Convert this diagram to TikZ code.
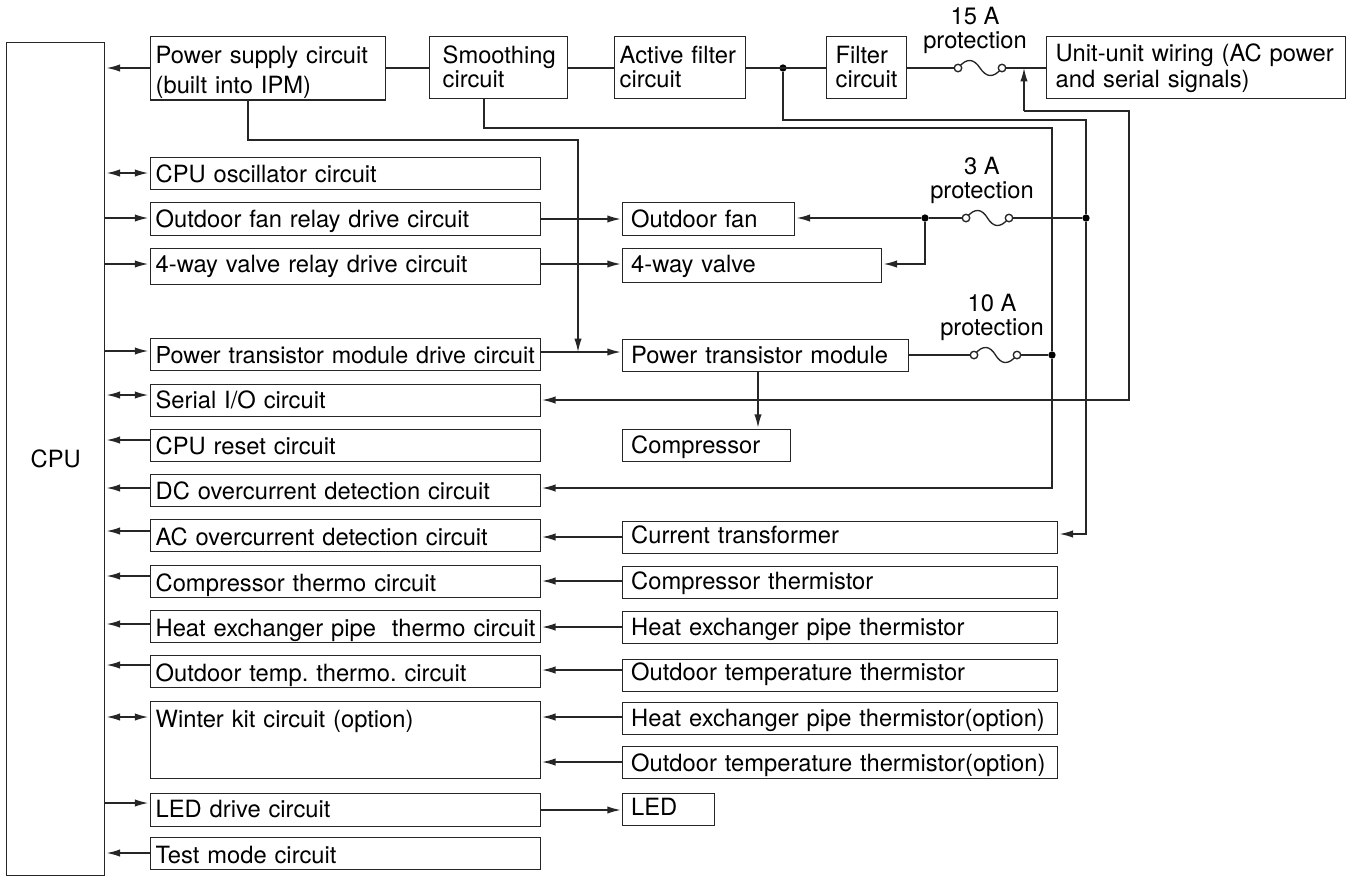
\documentclass[tikz,border=0pt]{standalone}
\usepackage{fontspec}
\setmainfont{TeX Gyre Heros}
\usetikzlibrary{arrows.meta,calc}
\tikzset{
  x=0.75pt,y=-0.75pt,
  txt/.style={font=\fontsize{17.8}{18}\selectfont\frenchspacing},
  lead/.style={font=\fontsize{17.8}{#1}\selectfont\frenchspacing},
  blkm/.style n args={3}{draw=black!85,line width=1pt,txt,anchor=north west,inner xsep=#3*0.75pt,inner ysep=0pt,
    minimum width=#1*0.75pt,minimum height=#2*0.75pt,text width=#1*0.75pt-2*#3*0.75pt,align=left},
  blk/.style n args={4}{blkm={#1}{#2}{#3},text height=#2*0.75pt-2*#4*0.75pt,text depth=0pt},
  wire/.style={draw=black!85,line width=1pt},
  arr/.style={wire,shorten >=1pt,-{Latex[length=10pt,width=5.5pt]}},
  biarr/.style={wire,shorten >=1pt,shorten <=1pt,{Latex[length=10pt,width=5.5pt]}-{Latex[length=10pt,width=5.5pt]}},
  dotj/.style={circle,fill=black,inner sep=0pt,minimum size=5.5pt},
  pin/.style={circle,draw=black!85,fill=white,line width=0.9pt,inner sep=0pt,minimum size=5.5pt},
  caption/.style={lead=18,align=center},
}
\newcommand{\fusewave}[2]{\draw[wire] (#1.center) .. controls ($(#1.center)+(9,-11)$) and ($(#1.center)+(16,-9)$) .. ($(#1.center)!.5!(#2.center)$) .. controls ($(#2.center)+(-16,9)$) and ($(#2.center)+(-9,11)$) .. (#2.center);}
\newcommand{\lastrule}{\rule[-5pt]{0pt}{5pt}}
\begin{document}
\begin{tikzpicture}
\useasboundingbox (0,0) rectangle (1356,876);
% CPU
\node[draw=black!85,line width=1pt,txt,anchor=north west,inner sep=0pt,minimum width=98*0.75pt,minimum height=833*0.75pt] (cpu) at (6,42) {CPU};
% top row
\node[blkm={235}{62}{5},lead=22.5] (psu) at (150,36) {\rule{0pt}{20pt}Power supply circuit\\(built into IPM)\lastrule};
\node[blkm={138}{62}{13},lead=18] (smooth) at (429,36) {\rule{0pt}{17pt}Smoothing\\circuit\lastrule};
\node[blkm={131}{62}{5},lead=18] (active) at (614,36) {\rule{0pt}{17pt}Active filter\\circuit\lastrule};
\node[blkm={80}{62}{9},lead=18] (filter) at (826,36) {\rule{0pt}{17pt}Filter\\circuit\lastrule};
\node[blkm={299}{62}{9},lead=20] (unit) at (1046,36) {\rule{0pt}{15pt}Unit-unit wiring (AC power\\and serial signals)\lastrule};
% left column
\node[blk={390}{32}{5.5}{7}] (osc) at (149.5,157) {CPU oscillator circuit};
\node[blk={390}{33}{5.5}{8}] (fanrelay) at (149.5,202) {Outdoor fan relay drive circuit};
\node[blk={390}{36}{5.5}{12}] (valverelay) at (149.5,248) {4-way valve relay drive circuit};
\node[blk={390}{32}{5.5}{7},font=\fontsize{17.5}{18}\selectfont] (ptmdrive) at (149.5,338) {\mbox{Power transistor module drive circuit}};
\node[blk={390}{32}{5.5}{8}] (serial) at (149.5,384) {Serial I/O circuit};
\node[blk={390}{32}{5.5}{7}] (reset) at (149.5,429) {CPU reset circuit};
\node[blk={390}{32}{5.5}{7}] (dc) at (149.5,474) {DC overcurrent detection circuit};
\node[blk={390}{32}{5.5}{6}] (ac) at (149.5,519) {AC overcurrent detection circuit};
\node[blk={390}{32}{5.5}{6}] (compth) at (149.5,565) {Compressor thermo circuit};
\node[blk={390}{32}{5.5}{6}] (hexth) at (149.5,610) {\mbox{Heat exchanger pipe\ \ thermo circuit}};
\node[blk={390}{32}{5.5}{6}] (outth) at (149.5,655) {Outdoor temp. thermo. circuit};
\node[blkm={390}{77}{5.5},text height=0pt,text depth=18.75pt] (winter) at (149.5,701) {Winter kit circuit (option)};
\node[blk={390}{33}{5.5}{9}] (leddrv) at (149.5,793) {LED drive circuit};
\node[blk={390}{32}{5.5}{6}] (test) at (149.5,837) {Test mode circuit};
% middle column
\node[blk={172}{33}{8.5}{8}] (fan) at (622,202) {Outdoor fan};
\node[blk={259}{34}{8.5}{10}] (valve) at (622,248) {4-way valve};
\node[blk={286}{32}{8.5}{8}] (ptm) at (622,339) {Power transistor module};
\node[blk={168}{32}{8.5}{8}] (comp) at (622,429) {Compressor};
\node[blk={435}{32}{8.5}{10}] (ct) at (622,521) {Current transformer};
\node[blk={435}{32}{8.5}{9}] (compsens) at (622,566) {Compressor thermistor};
\node[blk={435}{32}{8.5}{8}] (hexsens) at (622,611) {Heat exchanger pipe thermistor};
\node[blk={435}{32}{8.5}{11}] (outsens) at (622,659) {Outdoor temperature thermistor};
\node[blk={435}{32}{8.5}{8}] (hexopt) at (622,702) {Heat exchanger pipe thermistor(option)};
\node[blk={435}{32}{8.5}{7}] (outopt) at (622,746) {Outdoor temperature thermistor(option)};
\node[blk={92}{32}{8.5}{10}] (led) at (622,793) {LED};
% junctions
\node[dotj] (j1) at (783,68) {};
\node[dotj] (j3) at (925,218) {};
\node[dotj] (j3r) at (1086,218) {};
\node[dotj] (j10) at (1052,355) {};
\coordinate (tapdrive) at (578,352);
\coordinate (c1) at (248,140);
\coordinate (c2) at (484,128);
\coordinate (c3) at (1052,128);
\coordinate (c4) at (783,120);
\coordinate (c5) at (1086,120);
\coordinate (c6) at (1024,111);
\coordinate (c7) at (1129,111);
\coordinate (c8) at (1129,400);
\coordinate (c9) at (1052,488);
\coordinate (c10) at (1086,534);
\coordinate (c11) at (1024,68);
\coordinate (c12) at (925,264);
% fuses
\node[pin] (f15a) at (958,68) {};
\node[pin] (f15b) at (1002,68) {};
\node[pin] (f3a) at (966,218) {};
\node[pin] (f3b) at (1009,218) {};
\node[pin] (f10a) at (974,355) {};
\node[pin] (f10b) at (1017,355) {};
% top row wires
\draw[wire] (psu.east |- j1) -- (smooth.west |- j1);
\draw[wire] (smooth.east |- j1) -- (active.west |- j1);
\draw[wire] (active.east |- j1) -- (filter.west |- j1);
\draw[wire] (filter.east |- f15a) -- (f15a);
\draw[wire] (f15b) -- (unit.west |- f15b);
\draw[arr,shorten >=0pt] (psu.south -| c1) -- (c1) -- (c1 -| tapdrive) -- (tapdrive);
\draw[wire] (smooth.south -| c2) -- (c2) -- (c3) -- (j10);
\draw[arr] (j10) -- (c9) -- (dc.east |- c9);
\draw[wire] (j1) -- (c4) -- (c5) -- (j3r);
\draw[arr] (j3r) -- (c10) -- (ct.east |- c10);
\draw[arr,shorten >=0pt] (c6) -- (c11);
\draw[arr] (c6) -- (c7) -- (c8) -- (serial.east |- c8);
% fuse wires
\draw[arr] (j3) -- (fan.east |- j3);
\draw[wire] (j3) -- (f3a);
\draw[wire] (f3b) -- (j3r);
\draw[arr] (j3) -- (c12) -- (valve.east |- c12);
\draw[wire] (ptm.east |- f10a) -- (f10a);
\draw[wire] (f10b) -- (j10);
\fusewave{f15a}{f15b}
\fusewave{f3a}{f3b}
\fusewave{f10a}{f10b}
\node[pin] at (f15a) {};
\node[pin] at (f15b) {};
\node[pin] at (f3a) {};
\node[pin] at (f3b) {};
\node[pin] at (f10a) {};
\node[pin] at (f10b) {};
% middle links
\draw[arr] (fanrelay.east |- 0,219) -- (fan.west |- 0,219);
\draw[arr] (valverelay.east |- 0,264) -- (valve.west |- 0,264);
\draw[arr] (ptmdrive.east |- tapdrive) -- (ptm.west |- tapdrive);
\draw[arr] (ptm.south -| 758,0) -- (comp.north -| 758,0);
\draw[arr] (ct.west |- 0,537) -- (ac.east |- 0,537);
\draw[arr] (compsens.west |- 0,581) -- (compth.east |- 0,581);
\draw[arr] (hexsens.west |- 0,627) -- (hexth.east |- 0,627);
\draw[arr] (outsens.west |- 0,670) -- (outth.east |- 0,670);
\draw[arr] (hexopt.west |- 0,717) -- (winter.east |- 0,717);
\draw[arr] (outopt.west |- 0,762) -- (winter.east |- 0,762);
\draw[arr] (leddrv.east |- 0,810) -- (led.west |- 0,810);
% CPU side
\draw[arr] (psu.west |- 0,68) -- (cpu.east |- 0,68);
\draw[biarr] (cpu.east |- 0,173) -- (osc.west |- 0,173);
\draw[arr] (cpu.east |- 0,218) -- (fanrelay.west |- 0,218);
\draw[arr] (cpu.east |- 0,264) -- (valverelay.west |- 0,264);
\draw[arr] (cpu.east |- 0,351) -- (ptmdrive.west |- 0,351);
\draw[biarr] (cpu.east |- 0,395) -- (serial.west |- 0,395);
\draw[arr] (reset.west |- 0,440) -- (cpu.east |- 0,440);
\draw[arr] (dc.west |- 0,488) -- (cpu.east |- 0,488);
\draw[arr] (ac.west |- 0,531) -- (cpu.east |- 0,531);
\draw[arr] (compth.west |- 0,576) -- (cpu.east |- 0,576);
\draw[arr] (hexth.west |- 0,624) -- (cpu.east |- 0,624);
\draw[arr] (outth.west |- 0,665) -- (cpu.east |- 0,665);
\draw[biarr] (cpu.east |- 0,717) -- (winter.west |- 0,717);
\draw[arr] (cpu.east |- 0,803) -- (leddrv.west |- 0,803);
\draw[arr] (test.west |- 0,853) -- (cpu.east |- 0,853);
% captions
\node[caption,anchor=base] (cap15) at (975,48) {15 A\\protection};
\node[caption,anchor=base] (cap3) at (982,198) {3 A\\protection};
\node[caption,anchor=base] (cap10) at (992,335) {10 A\\protection};
\end{tikzpicture}
\end{document}
